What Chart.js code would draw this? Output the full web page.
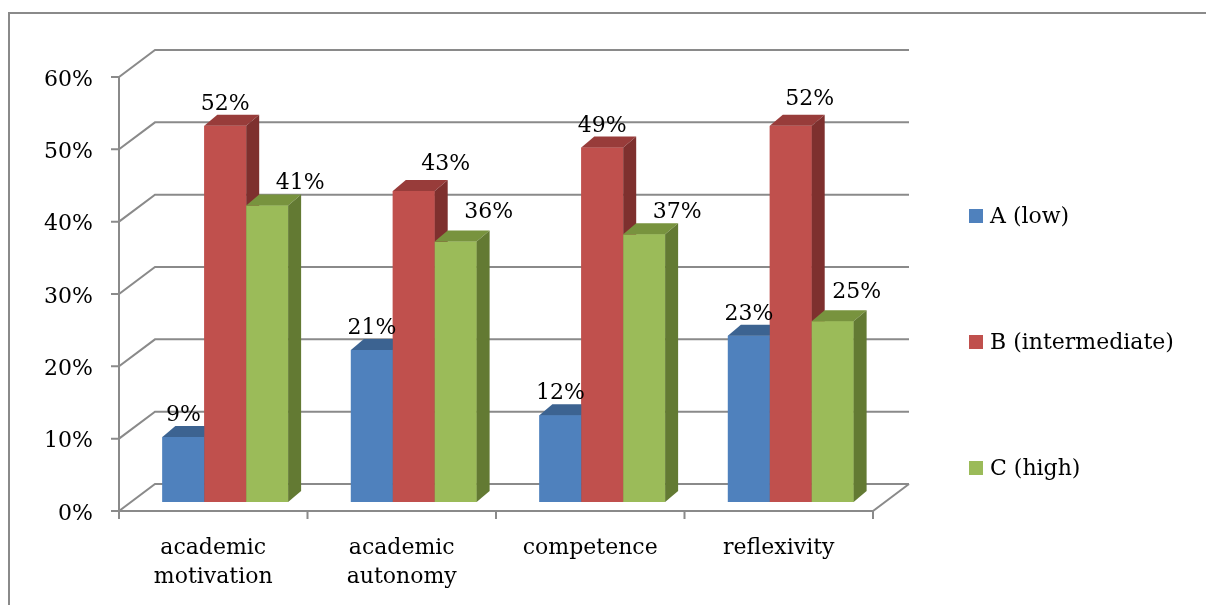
<!DOCTYPE html>
<html>
<head>
<meta charset="utf-8">
<script src="https://cdn.jsdelivr.net/npm/chart.js@4.4.1/dist/chart.umd.min.js"></script>
<style>
  html, body { margin: 0; background: #fff; }
  #wrap { position: relative; width: 1206px; height: 605px; }
</style>
</head>
<body>
<div id="wrap"><canvas id="levels-chart"></canvas></div>
<script>
// levels per criterion, in percent
const categories = [['academic', 'motivation'], ['academic', 'autonomy'], 'competence', 'reflexivity'];
const seriesNames = ['A (low)', 'B (intermediate)', 'C (high)'];
const lowValues = [9, 21, 12, 23];
const intermediateValues = [52, 43, 49, 52];
const highValues = [41, 36, 37, 25];
const yTicks = [0, 10, 20, 30, 40, 50, 60];

// face colours: front / top / right side
const faces = [
  { front: '#4F81BD', top: '#3C6391', side: '#385D8A' },
  { front: '#C0504D', top: '#983C3A', side: '#7E302E' },
  { front: '#9BBB59', top: '#78933E', side: '#637A33' }
];

// pseudo 3d offsets (px): bar plane vs front edge, wall depth, bar depth
const PLANE = { dx: 12, dy: 9 };
const WALL = { dx: 36, dy: 27 };
const BAR = { dx: 13, dy: 11 };
const GREY = '#8a8a8a';

// hand-moved value labels [dx, dy] per series / category
const labelNudge = [
  [[0, 0], [0, 0], [0, 0], [0, 0]],
  [[0, 0], [32, -5], [0, 0], [19, -5]],
  [[33, 0], [33, -8], [33, 0], [24, -7]]
];

Chart.defaults.font.family = "'DejaVu Serif', serif";
Chart.defaults.font.size = 22;
Chart.defaults.color = '#000';

function poly(ctx, pts) {
  ctx.beginPath();
  ctx.moveTo(pts[0][0], pts[0][1]);
  for (let i = 1; i < pts.length; i++) ctx.lineTo(pts[i][0], pts[i][1]);
  ctx.closePath();
  ctx.fill();
}

const frame3d = {
  id: 'frame3d',
  beforeDatasetsDraw(chart) {
    const { ctx, chartArea: a, scales: { y } } = chart;
    const fl = a.left - PLANE.dx, fr = a.right - PLANE.dx;
    ctx.save();
    ctx.strokeStyle = GREY;
    ctx.lineWidth = 2;

    // outer border
    ctx.beginPath();
    ctx.moveTo(9, chart.height + 2);
    ctx.lineTo(9, 13);
    ctx.lineTo(chart.width + 2, 13);
    ctx.stroke();

    // side wall + back wall grid lines
    yTicks.forEach(v => {
      const fy = y.getPixelForValue(v) + PLANE.dy;
      ctx.beginPath();
      ctx.moveTo(fl - 8, fy);
      ctx.lineTo(fl, fy);
      ctx.lineTo(fl + WALL.dx, fy - WALL.dy);
      ctx.lineTo(fr + WALL.dx, fy - WALL.dy);
      ctx.stroke();
    });

    // front axis and floor edge
    const f0 = y.getPixelForValue(yTicks[0]) + PLANE.dy;
    const fTop = y.getPixelForValue(yTicks[yTicks.length - 1]) + PLANE.dy;
    ctx.beginPath();
    ctx.moveTo(fl, fTop);
    ctx.lineTo(fl, f0);
    ctx.lineTo(fr, f0);
    ctx.lineTo(fr + WALL.dx, f0 - WALL.dy);
    for (let i = 0; i <= categories.length; i++) {
      const px = fl + (fr - fl) * i / categories.length;
      ctx.moveTo(px, f0);
      ctx.lineTo(px, f0 + 8);
    }
    ctx.stroke();
    ctx.restore();
  },
  afterDatasetsDraw(chart) {
    const { ctx } = chart;
    ctx.save();
    // boxes, left to right inside each group
    chart.data.datasets.forEach((ds, i) => {
      const f = faces[i];
      chart.getDatasetMeta(i).data.forEach(bar => {
        const { x, y, base, width } = bar.getProps(['x', 'y', 'base', 'width'], true);
        const l = x - width / 2, r = x + width / 2;
        ctx.fillStyle = f.front;
        ctx.fillRect(l, y, width, base - y);
        ctx.fillStyle = f.top;
        poly(ctx, [[l, y], [r, y], [r + BAR.dx, y - BAR.dy], [l + BAR.dx, y - BAR.dy]]);
        ctx.fillStyle = f.side;
        poly(ctx, [[r, y], [r + BAR.dx, y - BAR.dy], [r + BAR.dx, base - BAR.dy], [r, base]]);
      });
    });

    // value labels
    ctx.font = "22px 'DejaVu Serif'";
    ctx.fillStyle = '#000';
    ctx.textAlign = 'center';
    ctx.textBaseline = 'alphabetic';
    chart.data.datasets.forEach((ds, i) => {
      chart.getDatasetMeta(i).data.forEach((bar, j) => {
        const n = labelNudge[i][j];
        ctx.fillText(ds.data[j] + '%', bar.x + n[0], bar.y - 16 + n[1]);
      });
    });

    // legend
    const lx = chart.chartArea.right + 84;
    ctx.textAlign = 'left';
    ctx.textBaseline = 'middle';
    chart.data.datasets.forEach((ds, i) => {
      const ly = 216 + i * 126;
      ctx.fillStyle = ds.backgroundColor;
      ctx.fillRect(lx, ly - 7, 14, 14);
      ctx.fillStyle = '#000';
      ctx.fillText(ds.label, lx + 21, ly + 1);
    });
    ctx.restore();
  }
};

const seriesValues = [lowValues, intermediateValues, highValues];

new Chart(document.getElementById('levels-chart'), {
  type: 'bar',
  data: {
    labels: categories,
    datasets: seriesNames.map((name, i) => ({
      label: name,
      data: seriesValues[i],
      backgroundColor: faces[i].front,
      categoryPercentage: 0.667,
      barPercentage: 1
    }))
  },
  options: {
    responsive: true,
    maintainAspectRatio: false,
    animation: false,
    events: [],
    layout: { padding: { left: 0, top: 68, right: 321, bottom: 0 } },
    plugins: {
      legend: { display: false },
      tooltip: { enabled: false }
    },
    scales: {
      x: {
        grid: { display: false, drawTicks: false },
        border: { display: false },
        ticks: { padding: 32, labelOffset: -PLANE.dx, maxRotation: 0, font: { lineHeight: 1.32 } },
        afterFit(scale) { scale.height = 103; }
      },
      y: {
        min: yTicks[0],
        max: yTicks[yTicks.length - 1],
        grid: { display: false, drawTicks: false },
        border: { display: false },
        ticks: { stepSize: 10, padding: 38, labelOffset: 12, callback: v => v + '%' },
        afterFit(scale) { scale.width = 131; }
      }
    }
  },
  plugins: [frame3d]
});
</script>
</body>
</html>
